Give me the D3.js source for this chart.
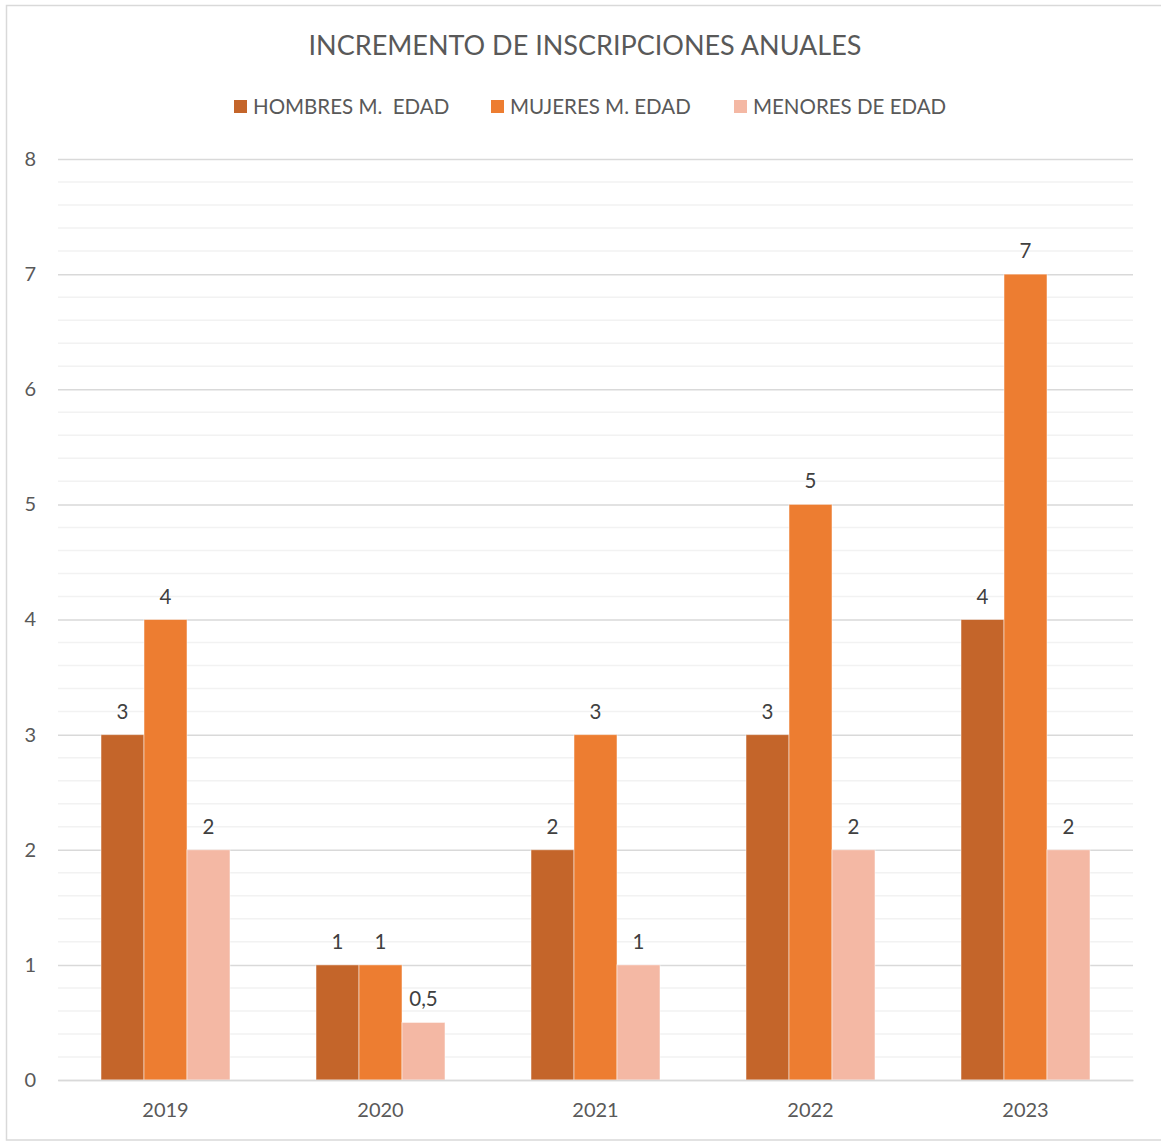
<!DOCTYPE html>
<html>
<head>
<meta charset="utf-8">
<script src="https://cdn.jsdelivr.net/npm/d3@7"></script>
<style>
  body { margin: 0; background: #fff; }
  text { font-family: Lato, "Open Sans", sans-serif; }
</style>
</head>
<body>
<svg id="chart" width="1161" height="1142"></svg>
<script>
// chart data
const years = ['2019', '2020', '2021', '2022', '2023'];
const seriesNames = ['HOMBRES M.  EDAD', 'MUJERES M. EDAD', 'MENORES DE EDAD'];
const hombres = [3, 1, 2, 3, 4];
const mujeres = [4, 1, 3, 5, 7];
const menores = [2, 0.5, 1, 2, 2];
const yTicks = [0, 1, 2, 3, 4, 5, 6, 7, 8];

const colors = ['#C4652A', '#ED7D31', '#F4B8A4'];
const allSeries = [hombres, mujeres, menores];

const svg = d3.select('#chart');
const W = 1161, H = 1142;
const plot = { left: 58, right: 1133, top: 159, bottom: 1080 };

// outer frame
svg.append('rect')
  .attr('x', 6.5).attr('y', 5.5)
  .attr('width', W).attr('height', 1134.5)
  .attr('fill', 'none').attr('stroke', '#d9d9d9').attr('stroke-width', 1.5);

let x = d3.scaleBand().domain(years).range([plot.left, plot.right])
  .paddingInner(0.4).paddingOuter(0.2);
let xs = d3.scaleBand().domain(d3.range(3)).range([0, x.bandwidth()]);
let y = d3.scaleLinear().domain([0, 8]).range([plot.bottom, plot.top]);

// minor grid
let minor = d3.range(0, 8.001, 0.2).filter(v => Math.abs(v - Math.round(v)) > 1e-6);
svg.append('g').selectAll('line').data(minor).join('line')
  .attr('x1', plot.left).attr('x2', plot.right)
  .attr('y1', d => y(d)).attr('y2', d => y(d))
  .attr('stroke', '#f2f2f2').attr('stroke-width', 1.5);

// major grid + y labels
let yAxis = d3.axisLeft(y).tickValues(yTicks).tickSize(-(plot.right - plot.left)).tickPadding(22);
let gy = svg.append('g').attr('transform', `translate(${plot.left},0)`).call(yAxis);
gy.select('.domain').remove();
gy.selectAll('line').attr('stroke', '#d9d9d9').attr('stroke-width', 1.5);
gy.selectAll('text').attr('fill', '#595959').style('font-size', '20px');

// bars
allSeries.forEach((vals, si) => {
  let g = svg.append('g');
  g.selectAll('rect').data(vals).join('rect')
    .attr('x', (d, i) => x(years[i]) + xs(si))
    .attr('y', d => y(d))
    .attr('width', xs.bandwidth())
    .attr('height', d => y(0) - y(d))
    .attr('fill', colors[si])
    .attr('stroke', '#fff').attr('stroke-opacity', 0.5).attr('stroke-width', 1);
  g.selectAll('text').data(vals).join('text')
    .attr('x', (d, i) => x(years[i]) + xs(si) + xs.bandwidth() / 2)
    .attr('y', d => y(d) - 16)
    .attr('text-anchor', 'middle')
    .attr('fill', '#404040')
    .style('font-size', '20.5px')
    .text(d => String(d).replace('.', ','));
});

// x axis
let gx = svg.append('g').attr('transform', `translate(0,${plot.bottom})`)
  .call(d3.axisBottom(x).tickSize(0).tickPadding(23));
gx.select('.domain').attr('stroke', '#d9d9d9').attr('stroke-width', 1.5);
gx.selectAll('text').attr('fill', '#595959').style('font-size', '20px');

// title
svg.append('text')
  .attr('x', 585).attr('y', 55)
  .attr('text-anchor', 'middle')
  .attr('fill', '#595959')
  .style('font-size', '27px')
  .text('INCREMENTO DE INSCRIPCIONES ANUALES');

// legend
let legendX = [234, 491, 734];
let lg = svg.append('g').selectAll('g').data(seriesNames).join('g')
  .attr('transform', (d, i) => `translate(${legendX[i]},100)`);
lg.append('rect').attr('width', 13).attr('height', 13).attr('fill', (d, i) => colors[i]);
lg.append('text').attr('x', 19).attr('y', 14)
  .attr('fill', '#595959').style('font-size', '20.5px').style('white-space', 'pre')
  .text(d => d);
</script>
</body>
</html>
